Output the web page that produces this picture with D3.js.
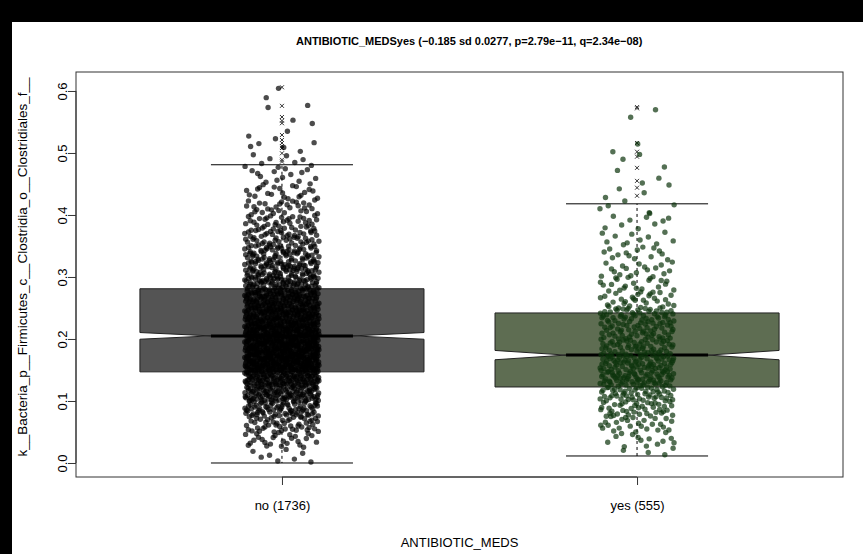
<!DOCTYPE html>
<html>
<head>
<meta charset="utf-8">
<script src="https://cdn.jsdelivr.net/npm/d3@7"></script>
<style>
  body { margin: 0; background: #fff; }
  svg { display: block; }
</style>
</head>
<body>
<svg id="chart"></svg>
<script>
// groups and summary stats
const groups = ["no", "yes"];
const groupCounts = [1736, 555];
const q1 = [0.147, 0.1226];
const medians = [0.205, 0.174];
const q3 = [0.281, 0.242];
const notchLo = [0.1996, 0.1665];
const notchHi = [0.2104, 0.1815];
const whiskerLo = [0.0, 0.0113];
const whiskerHi = [0.481, 0.418];
const minValues = [0.0, 0.011];
const maxValues = [0.607, 0.574];
const boxFills = ["#545454", "#5e6d52"];
const pointFills = ["#000000", "#0b330b"];

// outliers (drawn as x at the box centre)
const outliersNo = [0.606, 0.576, 0.558, 0.552, 0.548, 0.529, 0.521, 0.516, 0.511, 0.508, 0.4995, 0.489, 0.486];
const outliersYes = [0.574, 0.572, 0.516, 0.502, 0.494, 0.476, 0.455, 0.444, 0.431];

// estimated point counts per 0.025-wide bin, from 0.000 upward
const binStart = 0;
const binWidth = 0.025;
const binsNo = [8, 26, 46, 78, 120, 160, 200, 195, 180, 155, 130, 105, 85, 68, 52, 40, 30, 21, 14, 9, 6, 3, 2, 2, 1];
const binsYes = [4, 14, 26, 40, 54, 70, 70, 55, 48, 52, 28, 22, 18, 14, 11, 9, 6, 4, 3, 3, 2, 0, 2, 0];

const yTicks = [0, 0.1, 0.2, 0.3, 0.4, 0.5, 0.6];
const title = "ANTIBIOTIC_MEDSyes (\u22120.185 sd 0.0277, p=2.79e\u221211, q=2.34e\u221208)";
const yLabel = "k__Bacteria_p__Firmicutes_c__Clostridia_o__Clostridiales_f__";
const xLabel = "ANTIBIOTIC_MEDS";

const W = 863, H = 554;
const plot = { left: 76, right: 843, top: 72, bottom: 477 };
const font = "'Liberation Sans', Arial, sans-serif";

const svg = d3.select("#chart").attr("width", W).attr("height", H)
  .attr("style", `font-family: ${font}`);

const x = d3.scaleLinear().domain([0.42, 2.58]).range([plot.left, plot.right]);
const y = d3.scaleLinear().domain([-0.0226, 0.6306]).range([plot.bottom, plot.top]);

const wb = 0.4;      // box half width
const wn = wb / 2;   // notch half width
const jit = 0.105;   // jitter half width

// halton sequence for spreading points inside a bin
function halton(i, base) {
  let f = 1, r = 0;
  while (i > 0) {
    f /= base;
    r += f * (i % base);
    i = Math.floor(i / base);
  }
  return r;
}

// boxes
groups.forEach((g, i) => {
  const c = i + 1;
  const pts = [
    [c - wb, q1[i]], [c - wb, notchLo[i]], [c - wn, medians[i]], [c - wb, notchHi[i]], [c - wb, q3[i]],
    [c + wb, q3[i]], [c + wb, notchHi[i]], [c + wn, medians[i]], [c + wb, notchLo[i]], [c + wb, q1[i]],
  ];
  svg.append("polygon")
    .attr("points", pts.map((p) => `${x(p[0])},${y(p[1])}`).join(" "))
    .attr("fill", boxFills[i])
    .attr("stroke", "#222")
    .attr("stroke-width", 1);

  // whiskers
  [[q1[i], whiskerLo[i]], [q3[i], whiskerHi[i]]].forEach(([a, b]) => {
    svg.append("line")
      .attr("x1", x(c)).attr("x2", x(c))
      .attr("y1", y(a)).attr("y2", y(b))
      .attr("stroke", "#000").attr("stroke-width", 1)
      .attr("stroke-dasharray", "3,3");
    svg.append("line")
      .attr("x1", x(c - wn)).attr("x2", x(c + wn))
      .attr("y1", y(b)).attr("y2", y(b))
      .attr("stroke", "#000").attr("stroke-width", 1);
  });

  svg.append("line")
    .attr("x1", x(c - wn)).attr("x2", x(c + wn))
    .attr("y1", y(medians[i])).attr("y2", y(medians[i]))
    .attr("stroke", "#000").attr("stroke-width", 3);
});

// outlier marks
[outliersNo, outliersYes].forEach((arr, i) => {
  const c = i + 1;
  svg.selectAll(null)
    .data(arr)
    .enter()
    .append("path")
    .attr("d", (d) => {
      const cx = x(c), cy = y(d), s = 2;
      return `M${cx - s},${cy - s}L${cx + s},${cy + s}M${cx - s},${cy + s}L${cx + s},${cy - s}`;
    })
    .attr("stroke", "#333")
    .attr("stroke-width", 1)
    .attr("fill", "none");
});

// jittered points, spread inside each bin
[binsNo, binsYes].forEach((bins, i) => {
  const c = i + 1;
  const pts = [];
  bins.forEach((n, b) => {
    const lo = Math.max(binStart + b * binWidth, minValues[i]);
    const hi = Math.min(binStart + (b + 1) * binWidth, maxValues[i]);
    for (let k = 0; k < n; k++) {
      const idx = k + 1 + b * 17 + i * 211;
      pts.push({
        v: lo + halton(idx, 2) * (hi - lo),
        j: (halton(idx, 3) * 2 - 1) * jit,
      });
    }
  });
  svg.append("g")
    .selectAll("circle")
    .data(pts)
    .enter()
    .append("circle")
    .attr("cx", (d) => x(c + d.j))
    .attr("cy", (d) => y(d.v))
    .attr("r", 2.7)
    .attr("fill", pointFills[i])
    .attr("fill-opacity", 0.7);
});

// frame
svg.append("rect")
  .attr("x", plot.left).attr("y", plot.top)
  .attr("width", plot.right - plot.left).attr("height", plot.bottom - plot.top)
  .attr("fill", "none").attr("stroke", "#333").attr("stroke-width", 1);

// axes
const yAxis = svg.append("g")
  .attr("transform", `translate(${plot.left},0)`)
  .call(d3.axisLeft(y).tickValues(yTicks).tickSize(8).tickFormat(d3.format(".1f")));
yAxis.select(".domain").attr("d", `M0,${y(0)}V${y(0.6)}`).attr("stroke", "#333");
yAxis.selectAll(".tick line").attr("stroke", "#333");
yAxis.selectAll(".tick text")
  .attr("x", null).attr("dy", null)
  .attr("transform", "translate(-9,0) rotate(-90)")
  .attr("text-anchor", "middle")
  .attr("font-size", 13)
  .attr("font-family", font)
  .attr("fill", "#000");

const xAxis = svg.append("g")
  .attr("transform", `translate(0,${plot.bottom})`)
  .call(d3.axisBottom(x).tickValues([1, 2]).tickSize(8)
    .tickFormat((d, i) => `${groups[i]} (${groupCounts[i]})`));
xAxis.select(".domain").attr("d", `M${x(1)},0H${x(2)}`).attr("stroke", "#333");
xAxis.selectAll(".tick line").attr("stroke", "#333");
xAxis.selectAll(".tick text")
  .attr("y", 24)
  .attr("font-size", 13)
  .attr("font-family", font)
  .attr("fill", "#000");

// labels
svg.append("text")
  .attr("x", 296).attr("y", 45)
  .attr("text-anchor", "start")
  .attr("font-size", 11)
  .attr("font-weight", "bold")
  .text(title);

svg.append("text")
  .attr("x", (plot.left + plot.right) / 2).attr("y", 547)
  .attr("text-anchor", "middle")
  .attr("font-size", 13)
  .text(xLabel);

svg.append("text")
  .attr("transform", "translate(27,267) rotate(-90)")
  .attr("text-anchor", "middle")
  .attr("font-size", 13.5)
  .text(yLabel);

// dark border strips of the original image
svg.append("rect").attr("x", 0).attr("y", 0).attr("width", W).attr("height", 22).attr("fill", "#000");
svg.append("rect").attr("x", 0).attr("y", 0).attr("width", 12).attr("height", H).attr("fill", "#000");
</script>
</body>
</html>
